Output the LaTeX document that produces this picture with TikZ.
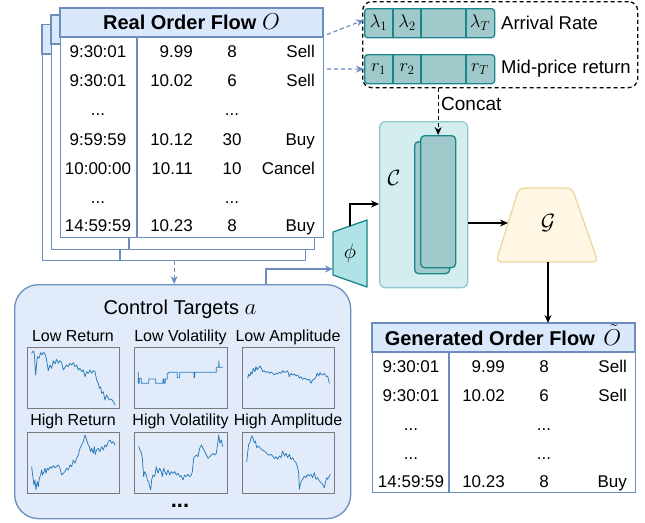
\RequirePackage{fix-cm}
\documentclass[tikz,border=0pt]{standalone}
\usepackage{amsmath}
\usepackage{fontspec}
\setmainfont{Liberation Sans}
\usetikzlibrary{arrows.meta,calc}

\newcommand{\rowdots}{...}
\newcommand{\bigmath}[1]{{\fontsize{23}{24}\selectfont$#1$}}

\definecolor{tblc}{HTML}{6C8EBF}
\definecolor{tblfill}{HTML}{DAE8FC}
\definecolor{ctrlfill}{HTML}{E1EBFA}
\definecolor{tealline}{HTML}{1A868C}
\definecolor{stripfill}{HTML}{A0C9CC}
\definecolor{phifill}{HTML}{B0E3E6}
\definecolor{contfill}{HTML}{D4EEF0}
\definecolor{contline}{HTML}{8CC8CE}
\definecolor{gfill}{HTML}{FFF7E3}
\definecolor{gline}{HTML}{EBD89E}
\definecolor{plotblue}{HTML}{2A7BB8}
\definecolor{panelline}{HTML}{7A7A7A}

\tikzset{
  tline/.style={draw=tblc, line width=1.3pt},
  cell/.style={inner sep=0pt, anchor=base, font=\fontsize{17}{20}\selectfont},
  headtxt/.style={inner sep=0pt, anchor=base, font=\bfseries\fontsize{20}{24}\selectfont},
  label/.style={inner sep=0pt, font=\fontsize{18.5}{22}\selectfont},
  strip/.style={draw=tealline, fill=stripfill, line width=1.3pt, rounded corners=3pt},
  arr/.style={line width=1.3pt, -{Stealth[length=8pt,width=7pt]}},
  bluedash/.style={draw=tblc, line width=1.2pt, dash pattern=on 4pt off 3pt, -{Stealth[length=8pt,width=7pt]}},
  panel/.style={draw=panelline, line width=0.9pt},
  curve/.style={draw=plotblue, line width=0.75pt, line join=round},
  ptitle/.style={inner sep=0pt, anchor=base, font=\fontsize{16}{19}\selectfont},
}

\begin{document}
\begin{tikzpicture}[x=1pt, y=-1pt]
\useasboundingbox (0,0) rectangle (645,522);

% ---------- stacked real order flow tables ----------
\node[tline, fill=white, anchor=north west, minimum width=263pt, minimum height=235pt, inner sep=0pt] (back2) at (42,24.5) {};
\path[tline, fill=tblfill] (42,24.5) rectangle (305,54);
\draw[tline] (120,54) -- (120,259.5);
\node[tline, fill=white, anchor=north west, minimum width=263pt, minimum height=234pt, inner sep=0pt] (back1) at (51,15) {};
\path[tline, fill=tblfill] (51,15) rectangle (314,44);
\draw[tline] (129,44) -- (129,249);
\node[tline, fill=white, anchor=north west, minimum width=263pt, minimum height=228.5pt, inner sep=0pt] (real) at (60,8) {};
\path[tline, fill=tblfill] (60,8) rectangle (323,37);
\draw[tline] (137,37) -- (137,236.5);
\node[headtxt] (realhead) at (191.5,29.3) {Real Order Flow \bigmath{O}};

\foreach \y/\t/\p/\q/\s [count=\i] in {57.5/9:30:01/9.99/8/Sell, 86.5/9:30:01/10.02/6/Sell, 115.5/\rowdots/{}/\rowdots/{}, 145/9:59:59/10.12/30/Buy, 174/10:00:00/10.11/10/Cancel, 203/\rowdots/{}/\rowdots/{}, 231.5/14:59:59/10.23/8/Buy}{
  \node[cell] (ot\i) at (98,\y) {\t};
  \node[cell, anchor=base east] (op\i) at (193,\y) {\p};
  \node[cell] (oq\i) at (232,\y) {\q};
  \node[cell, anchor=base east] (os\i) at (315,\y) {\s};
}

% ---------- feature strips ----------
\node[draw, line width=1.3pt, dash pattern=on 4pt off 3pt, rounded corners=9pt, anchor=north west, minimum width=275pt, minimum height=86pt, inner sep=0pt] (feat) at (362,1) {};

\node[strip, anchor=north west, minimum width=130pt, minimum height=29pt, inner sep=0pt] (rate) at (364,8) {};
\draw[tealline, line width=1.3pt] (393,8) -- (393,37) (421,8) -- (421,37) (466,8) -- (466,37);
\node[label] (l1) at (378.5,22.5) {$\lambda_1$};
\node[label] (l2) at (407,22.5) {$\lambda_2$};
\node[label] (lT) at (480,22.5) {$\lambda_T$};
\node[label, anchor=west] (ratetxt) at (501,22.5) {Arrival Rate};

\node[strip, anchor=north west, minimum width=130pt, minimum height=29pt, inner sep=0pt] (ret) at (364,54) {};
\draw[tealline, line width=1.3pt] (393,54) -- (393,83) (421,54) -- (421,83) (466,54) -- (466,83);
\node[label] (r1) at (378.5,69) {$r_1$};
\node[label] (r2) at (407,69) {$r_2$};
\node[label] (rT) at (480,69) {$r_T$};
\node[label, anchor=west] (rettxt) at (501,69) {Mid-price return};

\coordinate (oa) at (327,34.5);
\coordinate (ob) at (327,69);
\draw[bluedash] (oa) -- (rate.west |- 0,20) ;
\draw[bluedash] (ob) -- (ret.west);

% ---------- condition block ----------
\node[draw=contline, fill=contfill, line width=1.3pt, rounded corners=6pt, anchor=north west, minimum width=88pt, minimum height=166pt, inner sep=0pt] (cont) at (379,121) {};
\node[draw=tealline, fill=stripfill, line width=1.3pt, rounded corners=4pt, anchor=north west, minimum width=35pt, minimum height=132pt, inner sep=0pt] (blkback) at (414,141) {};
\node[draw=tealline, fill=stripfill, line width=1.3pt, rounded corners=4pt, anchor=north west, minimum width=35pt, minimum height=132pt, inner sep=0pt] (blk) at (420,135) {};
\node[inner sep=0pt, font=\fontsize{22}{24}\selectfont] (cC) at (394,178) {$\mathcal{C}$};

\draw[line width=1.3pt, dash pattern=on 4pt off 3pt, -{Stealth[length=8pt,width=7pt]}] (feat.south -| blk.north) -- (blk.north);
\node[label, anchor=west, font=\fontsize{19}{22}\selectfont] (concat) at (441,104) {Concat};

% ---------- phi encoder ----------
\draw[draw=tealline, fill=phifill, line width=1.3pt, line join=round] (333,232) -- (367,220) -- (367,287) -- (333,275) -- cycle;
\node[inner sep=0pt, font=\fontsize{21}{22}\selectfont] (phi) at (350,253) {$\phi$};
\coordinate (phiN) at (350,226);
\coordinate (phiW) at (333,269);
\draw[arr] (phiN) |- (cont.west |- 0,204);

% ---------- generator ----------
\draw[draw=gline, fill=gfill, line width=1.3pt, rounded corners=5pt] (519,188) -- (572,188) -- (598,262) -- (496,262) -- cycle;
\node[inner sep=0pt, font=\fontsize{22}{24}\selectfont] (gen) at (548,223) {$\mathcal{G}$};
\coordinate (genW) at (508,223);
\coordinate (genS) at (548,262);
\draw[arr] (cont.east |- genW) -- (genW);

% ---------- generated order flow ----------
\node[tline, fill=white, anchor=north west, minimum width=263pt, minimum height=169pt, inner sep=0pt] (gtab) at (372,323) {};
\path[tline, fill=tblfill] (372,323) rectangle (635,352);
\draw[tline] (449,352) -- (449,492);
\node[headtxt] (genhead) at (503,345) {Generated Order Flow\hspace{3pt} \bigmath{\tilde{O}}};
\draw[arr] (genS) -- (gtab.north -| genS);

\foreach \y/\t/\p/\q/\s [count=\i] in {372/9:30:01/9.99/8/Sell, 401/9:30:01/10.02/6/Sell, 430/\rowdots/{}/\rowdots/{}, 459/\rowdots/{}/\rowdots/{}, 487/14:59:59/10.23/8/Buy}{
  \node[cell] (gt\i) at (411,\y) {\t};
  \node[cell, anchor=base east] (gp\i) at (505,\y) {\p};
  \node[cell] (gq\i) at (544,\y) {\q};
  \node[cell, anchor=base east] (gs\i) at (627,\y) {\s};
}

% ---------- control targets ----------
\node[draw=tblc, fill=ctrlfill, line width=1.3pt, rounded corners=24pt, anchor=north west, minimum width=336pt, minimum height=234pt, inner sep=0pt] (ctrl) at (14,284) {};
\draw[bluedash] (back2.south) -- (ctrl.north -| back2.south);
\coordinate (ctrlout) at (266,284);
\draw[draw=tblc, line width=1.3pt, -{Stealth[length=8pt,width=7pt]}] (ctrlout) |- (phiW);

\node[inner sep=0pt, anchor=base, font=\fontsize{20}{24}\selectfont] (ctitle) at (180,314) {Control Targets \bigmath{a}};

\node[ptitle] (t1) at (73,341.5) {Low Return};
\node[ptitle] (t2) at (180.5,341.5) {Low Volatility};
\node[ptitle] (t3) at (288,341.5) {Low Amplitude};
\node[ptitle] (t4) at (73,425.5) {High Return};
\node[ptitle] (t5) at (180.5,425.5) {High Volatility};
\node[ptitle] (t6) at (288,425.5) {High Amplitude};

\draw[panel] (27,347) rectangle (119,408);
\draw[panel] (134,347) rectangle (227,408);
\draw[panel] (242,347) rectangle (334,408);
\draw[panel] (27,432) rectangle (119,493);
\draw[panel] (134,432) rectangle (227,493);
\draw[panel] (242,432) rectangle (334,493);

% low return
\begin{scope}[shift={(27.3,347.3)}, x=0.3333pt, y=-0.3333pt, shift={(-22,-22)}]
\draw[curve] (35,40)--(40,33)--(43,40)--(47,105)--(52,50)--(57,55)--(62,38)--(66,45)--(70,37)--(75,42)--(79,55)--(85,92)--(90,75)--(95,85)--(100,62)--(105,72)--(110,58)--(115,70)--(120,62)--(125,68)--(130,90)--(135,82)--(140,75)--(145,80)--(150,70)--(155,75)--(160,68)--(165,80)--(170,75)--(175,90)--(180,85)--(185,95)--(190,90)--(195,110)--(200,95)--(205,100)--(210,90)--(215,100)--(220,92)--(225,95)--(230,120)--(235,130)--(238,145)--(242,140)--(245,160)--(250,155)--(255,180)--(260,165)--(265,175)--(270,180)--(275,178)--(280,185)--(285,195);
\end{scope}
% low volatility
\begin{scope}[shift={(134,347.3)}, x=0.3333pt, y=-0.3333pt, shift={(-18,-22)}]
\draw[curve] (31,95)--(31,130)--(34,130)--(34,115)--(40,115)--(40,130)--(62,130)--(62,117)--(83,117)--(83,130)--(105,130)--(105,117)--(108,117)--(108,130)--(112,130)--(112,117)--(118,117)--(118,100)--(122,100)--(122,97)--(148,97)--(148,113)--(155,113)--(155,97)--(198,97)--(198,113)--(200,113)--(200,97)--(265,97)--(265,82)--(272,82)--(272,63)--(274,82)--(285,82);
\end{scope}
% low amplitude
\begin{scope}[shift={(242,347.3)}, x=0.3333pt, y=-0.3333pt, shift={(-18,-22)}]
\draw[curve] (35,115)--(38,103)--(42,108)--(45,95)--(48,103)--(52,85)--(57,95)--(60,80)--(64,90)--(68,83)--(72,78)--(76,85)--(80,95)--(85,92)--(90,97)--(95,95)--(100,100)--(105,96)--(110,100)--(115,105)--(120,100)--(125,102)--(130,97)--(135,100)--(140,92)--(145,97)--(150,95)--(155,93)--(160,110)--(165,100)--(170,105)--(175,102)--(180,108)--(185,105)--(190,115)--(195,110)--(200,118)--(205,115)--(210,117)--(215,120)--(220,118)--(225,130)--(230,120)--(235,118)--(240,110)--(243,100)--(248,108)--(252,98)--(255,103)--(260,105)--(265,100)--(270,110)--(275,108)--(280,130);
\end{scope}
% high return
\begin{scope}[shift={(27.3,432.3)}, x=0.3333pt, y=-0.3333pt, shift={(-22,-22)}]
\draw[curve] (35,125)--(38,150)--(42,180)--(45,165)--(48,195)--(52,170)--(55,185)--(58,160)--(62,150)--(65,135)--(68,150)--(72,140)--(75,130)--(78,145)--(82,130)--(86,135)--(90,125)--(95,130)--(100,122)--(105,128)--(110,125)--(115,120)--(120,130)--(125,150)--(130,145)--(135,140)--(140,130)--(145,135)--(150,120)--(155,125)--(160,105)--(165,115)--(170,100)--(175,90)--(180,70)--(185,60)--(190,50)--(195,30)--(200,45)--(205,60)--(208,65)--(212,80)--(215,70)--(220,85)--(223,65)--(226,88)--(230,75)--(235,70)--(240,80)--(245,65)--(250,75)--(255,60)--(260,65)--(265,50)--(270,45)--(275,55)--(280,50)--(285,60);
\end{scope}
% high volatility
\begin{scope}[shift={(134,432.3)}, x=0.3333pt, y=-0.3333pt, shift={(-18,-22)}]
\draw[curve] (32,63)--(36,75)--(40,85)--(43,100)--(47,155)--(50,140)--(55,150)--(58,165)--(62,170)--(65,185)--(68,195)--(71,165)--(75,150)--(80,155)--(85,125)--(90,145)--(95,130)--(100,140)--(103,155)--(107,130)--(110,138)--(115,150)--(120,135)--(125,150)--(130,140)--(135,145)--(140,140)--(145,150)--(150,145)--(155,155)--(160,152)--(165,165)--(170,150)--(175,155)--(180,148)--(185,155)--(190,150)--(193,140)--(197,100)--(200,95)--(205,90)--(210,95)--(215,70)--(220,60)--(225,70)--(230,80)--(235,90)--(240,100)--(245,95)--(250,90)--(255,85)--(260,90)--(265,85)--(270,50)--(272,30)--(276,55)--(280,45)--(284,65);
\end{scope}
% high amplitude
\begin{scope}[shift={(242,432)}, x=0.3333pt, y=-0.3333pt, shift={(-18,-18)}]
\draw[curve] (32,108)--(35,80)--(38,55)--(42,50)--(45,35)--(48,30)--(52,40)--(55,50)--(58,45)--(62,65)--(67,60)--(72,65)--(78,72)--(85,75)--(90,80)--(95,85)--(100,88)--(105,85)--(110,90)--(115,98)--(120,92)--(125,100)--(130,90)--(135,95)--(140,75)--(145,90)--(150,82)--(155,95)--(160,85)--(165,100)--(170,95)--(175,105)--(180,110)--(185,125)--(188,140)--(190,190)--(193,175)--(196,165)--(200,160)--(205,150)--(210,155)--(215,145)--(220,150)--(225,145)--(230,155)--(235,140)--(240,160)--(245,155)--(250,165)--(255,170)--(260,175)--(265,185)--(268,170)--(272,155)--(275,160)--(280,150)--(283,145);
\end{scope}

\node[inner sep=0pt, anchor=base, font=\bfseries\fontsize{22}{24}\selectfont] (more) at (180,507) {...};
\end{tikzpicture}
\end{document}
